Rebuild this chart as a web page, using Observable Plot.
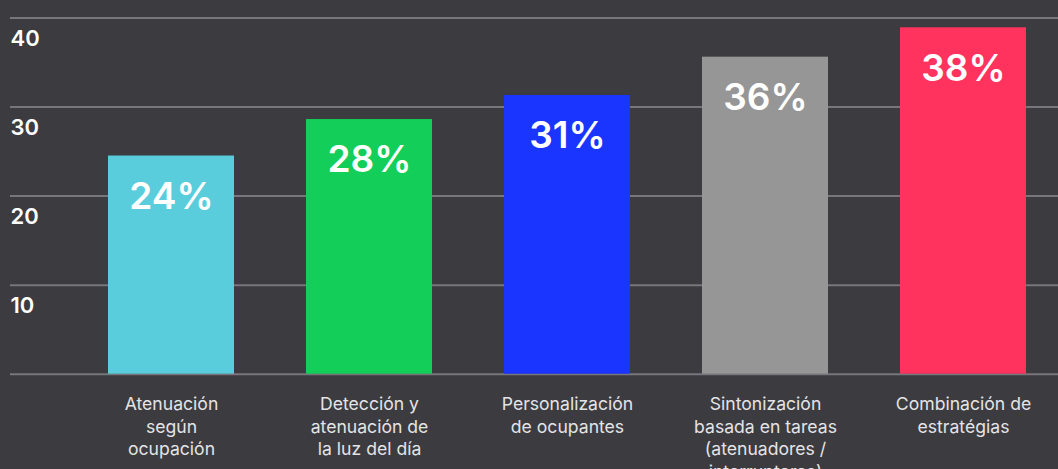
<!DOCTYPE html>
<html>
<head>
<meta charset="utf-8">
<script src="https://cdn.jsdelivr.net/npm/d3@7"></script>
<script src="https://cdn.jsdelivr.net/npm/@observablehq/plot@0.6"></script>
<style>
  html, body { margin: 0; padding: 0; background: #3c3b40; }
  #chart svg { display: block; }
</style>
</head>
<body>
<div id="chart"></div>
<script>
const categories = [
  "Atenuación\nsegún\nocupación",
  "Detección y\natenuación de\nla luz del día",
  "Personalización\nde ocupantes",
  "Sintonización\nbasada en tareas\n(atenuadores /\ninterruptores)",
  "Combinación de\nestratégias"
];
const values = [24.5, 28.6, 31.3, 35.6, 38.9];
const valueLabels = ["24%", "28%", "31%", "36%", "38%"];
const colors = ["#5acddc", "#13ce58", "#1a35ff", "#969696", "#ff335e"];
const gridTicks = [0, 10, 20, 30, 40];
const tickLabels = ["10", "20", "30", "40"];
const tickLabelValues = [10, 20, 30, 40];

const data = categories.map((c, i) => ({cat: c, value: values[i], label: valueLabels[i], color: colors[i]}));
const tickData = tickLabelValues.map((v, i) => ({v, t: tickLabels[i]}));

const chart = Plot.plot({
  width: 1058,
  height: 469,
  marginLeft: 87,
  marginRight: 11,
  marginTop: 17.5,
  marginBottom: 95.3,
  style: {background: "#3c3b40", fontFamily: "Inter, 'Open Sans', sans-serif", overflow: "visible"},
  x: {domain: categories, paddingInner: 0.366, paddingOuter: 0.1, axis: null},
  y: {domain: [0, 40], axis: null},
  marks: [
    Plot.ruleY(gridTicks, {stroke: "#77767b", strokeWidth: 2, insetLeft: -77, insetRight: -11}),
    Plot.barY(data, {x: "cat", y: "value", fill: "color"}),
    Plot.text(data, {x: "cat", y: "value", text: "label", dy: 41, fill: "white", fontSize: 37, fontWeight: 600}),
    Plot.text(tickData, {y: "v", text: "t", frameAnchor: "left", dx: -77, dy: 21, textAnchor: "start", fill: "white", fontSize: 22, fontWeight: 600}),
    Plot.text(data, {x: "cat", text: "cat", frameAnchor: "bottom", dy: 20, lineAnchor: "top", lineHeight: 1.28, fill: "#e4e4e6", fontSize: 17.6})
  ]
});
document.getElementById("chart").appendChild(chart);
</script>
</body>
</html>
